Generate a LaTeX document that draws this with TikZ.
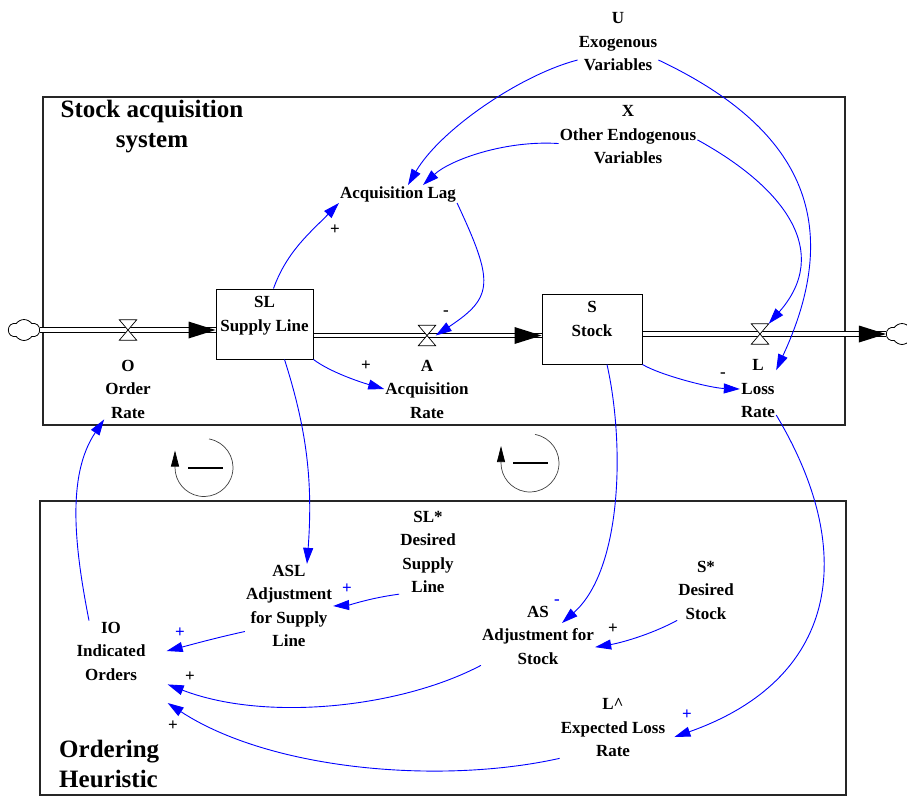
\documentclass[tikz,border=0pt]{standalone}
\usepackage{fontspec}
\setmainfont{Liberation Serif}
\usetikzlibrary{arrows.meta,shapes.symbols,calc}
\definecolor{lnk}{RGB}{0,0,255}
\begin{document}
\begin{tikzpicture}[x=1pt,y=-1pt,
  lbl/.style={font=\fontsize{17}{23.5}\selectfont\bfseries, align=center, inner sep=1pt},
  ttl/.style={font=\fontsize{25}{30}\selectfont\bfseries, inner sep=0pt},
  boxframe/.style={draw=black!85, line width=1.1pt},
  stockbox/.style={draw, line width=1pt, fill=white, inner sep=0pt},
  pipe/.style={draw, double, double distance=3.6pt, line width=1pt},
  valvebox/.style={inner sep=0pt, minimum width=17pt, minimum height=20pt},
  link/.style={draw=lnk, line width=0.9pt, -{Triangle[length=16pt,width=10pt]}},
  sgn/.style={font=\fontsize{17}{17}\selectfont\bfseries, inner sep=0pt},
  cloudnode/.style={cloud, cloud puffs=6, cloud puff arc=110, draw, line width=0.8pt, minimum width=31pt, minimum height=21pt, inner sep=0pt, aspect=1.6},
  loopline/.style={draw=black!75, line width=0.7pt, -{Triangle[length=16pt,width=8pt,black]}}
]
\useasboundingbox (0,0) rectangle (907,796);

% frames
\draw[boxframe] (43,97) rectangle (845,425);
\draw[boxframe] (40,501) rectangle (846,795);

% titles
\node[ttl, align=center] (title1) at (152,127) {Stock acquisition\\system};
\node[ttl, align=left, anchor=west] (title2) at (59,764) {Ordering\\Heuristic};

% top labels
\node[lbl] (U) at (618,42) {U\\Exogenous\\Variables};
\node[lbl] (X) at (628,135) {X\\Other Endogenous\\Variables};
\node[lbl] (AL) at (398,194) {Acquisition Lag};

% stocks
\node[stockbox, minimum width=97pt, minimum height=70pt] (SL) at (264.5,324) {};
\node[lbl, anchor=north] (SLt) at ([yshift=-7pt]SL.north) {SL\\Supply Line};
\node[stockbox, minimum width=100pt, minimum height=70pt] (S) at (592,329) {};
\node[lbl, anchor=north] (St) at ([yshift=-7pt]S.north) {S\\Stock};

% rates
\node[lbl] (O) at (128,389) {O\\Order\\Rate};
\node[lbl] (A) at (427,389) {A\\Acquisition\\Rate};
\node[lbl] (L) at (758,389) {L\\Loss\\Rate};

% bottom labels
\node[lbl] (SLs) at (428,552) {SL*\\Desired\\Supply\\Line};
\node[lbl] (ASL) at (289,606) {ASL\\Adjustment\\for Supply\\Line};
\node[lbl] (IO) at (111,651) {IO\\Indicated\\Orders};
\node[lbl] (AS) at (538,635) {AS\\Adjustment for\\Stock};
\node[lbl] (Ss) at (706,590) {S*\\Desired\\Stock};
\node[lbl] (Lh) at (613,728) {L\textasciicircum\\Expected Loss\\Rate};

% clouds and valves
\node[cloudnode] (cL) at (24,330) {};
\node[cloudnode] (cR) at (902,334) {};
\node[valvebox] (vO) at (128,330) {};
\node[valvebox] (vA) at (427,335.5) {};
\node[valvebox] (vL) at (760,334) {};

% pipes
\draw[pipe] (cL.east) -- (cL.east -| SL.west);
\fill (cL.east -| SL.west) -- ++(-27,-8.5) -- ++(0,17) -- cycle;
\draw[pipe] (vA -| SL.east) -- (vA -| S.west);
\fill (vA -| S.west) -- ++(-27,-8.5) -- ++(0,17) -- cycle;
\draw[pipe] (vL -| S.east) -- (vL -| cR.west);
\fill (vL -| cR.west) -- ++(-27,-8.5) -- ++(0,17) -- cycle;
\foreach \v in {vO,vA,vL}
  \draw[fill=white, line width=0.7pt] (\v.north west) -- (\v.north east) -- (\v.south west) -- (\v.south east) -- cycle;

% links
\draw[link] (U.204) .. controls (520,75) and (440,130) .. ([xshift=10pt]AL.north);
\draw[link] (X.187) .. controls (505,140) and (450,160) .. ([xshift=25pt]AL.north);
\draw[link] (U.336) .. controls (800,127) and (846,220) .. (L.46);
\draw[link] (X.356) .. controls (785,188) and (832,252) .. (vL.north east);
\draw[link] (AL.south east) .. controls (494,282) and (494,297) .. (vA.east);
\draw[link] ([xshift=9pt]SL.north) .. controls (287,251) and (311,232) .. (AL.south west);
\draw[link] (SL.south east) .. controls (330,372) and (360,382) .. (A.west);
\draw[link] (S.south east) .. controls (660,375) and (710,388) .. (L.west);
\draw[link] ([xshift=20pt]SL.south) .. controls (307,430) and (313,482) .. ([xshift=18pt]ASL.north);
\draw[link] ([xshift=15pt]S.south) .. controls (625,445) and (622,570) .. ([xshift=24pt,yshift=12pt]AS.center);
\draw[link] (L.305) .. controls (860,555) and (836,680) .. ([xshift=8pt,yshift=-9pt]Lh.east);
\draw[link] (SLs.south west) .. controls (370,598) and (350,605) .. (ASL.east);
\draw[link] (ASL.210) .. controls (215,638) and (190,645) .. ([xshift=20pt]IO.east);
\draw[link] (Ss.south west) .. controls (650,635) and (620,643) .. (AS.348);
\draw[link] (AS.south west) .. controls (400,708) and (265,722) .. ([xshift=21pt,yshift=-3pt]IO.south east);
\draw[link] (Lh.south west) .. controls (440,785) and (270,770) .. ([xshift=21pt,yshift=-52pt]IO.east);
\draw[link] ([xshift=-22pt]IO.north) .. controls (75,549) and (66,476) .. (O.south west);

% signs
\node[sgn] (p1) at (335,230) {+};
\node[sgn] (m1) at (446,313) {-};
\node[sgn] (p2) at (366,366) {+};
\node[sgn] (m2) at (723,375) {-};
\node[sgn, text=lnk] (m3) at (557,602) {-};
\node[sgn, text=lnk] (p3) at (347,589) {+};
\node[sgn, text=lnk] (p4) at (180,633) {+};
\node[sgn] (p5) at (613,629) {+};
\node[sgn] (p6) at (190,677) {+};
\node[sgn] (p7) at (173,726) {+};
\node[sgn, text=lnk] (p8) at (687,715) {+};

% loops
\coordinate (loop1) at (204,467.5);
\coordinate (loop2) at (530,463);
\draw[loopline] (loop1) ++(280:29) arc[start angle=280, end angle=540, radius=29] -- ++(0,-17);
\draw[loopline] (loop2) ++(280:29) arc[start angle=280, end angle=540, radius=29] -- ++(0,-17);
\draw[line width=2pt] ($(loop1)+(-16,0)$) -- ($(loop1)+(19,0)$);
\draw[line width=2pt] ($(loop2)+(-17,0)$) -- ($(loop2)+(18,0)$);
\end{tikzpicture}
\end{document}
